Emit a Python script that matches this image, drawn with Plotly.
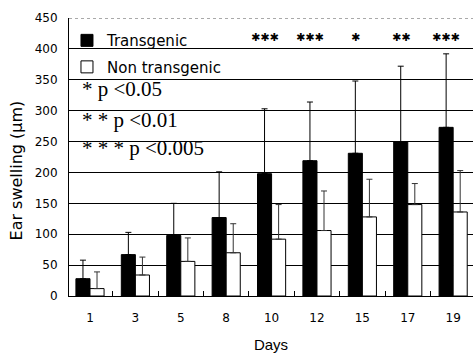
import plotly.graph_objects as go

days = ["1", "3", "5", "8", "10", "12", "15", "17", "19"]
transgenic = [28, 67, 98, 127, 198, 219, 231, 250, 273]
transgenic_err_top = [58, 103, 150, 201, 303, 314, 348, 372, 392]
nontransgenic = [12, 34, 56, 70, 92, 106, 128, 148, 136]
nontransgenic_err_top = [39, 63, 94, 117, 148, 170, 189, 182, 203]
sig_days = ["10", "12", "15", "17", "19"]
sig_marks = ["✱✱✱", "✱✱✱", "✱", "✱✱", "✱✱✱"]
p_notes = ["* p <0.05", "* * p <0.01", "* * * p <0.005"]
p_note_y = [335, 285, 239]
y_ticks = [0, 50, 100, 150, 200, 250, 300, 350, 400, 450]

sans = "Liberation Sans, Arial, sans-serif"
dejavu = "DejaVu Sans, sans-serif"
serif = "Liberation Serif, Times New Roman, serif"

fig = go.Figure()
fig.add_trace(go.Bar(
    x=days, y=transgenic, name="Transgenic",
    marker=dict(color="black", line=dict(color="black", width=1)),
    error_y=dict(type="data", symmetric=False,
                 array=[t - v for t, v in zip(transgenic_err_top, transgenic)],
                 arrayminus=[0] * len(days), color="black", thickness=1, width=3),
    legendgroup="a",
))
fig.add_trace(go.Bar(
    x=days, y=nontransgenic, name="Non transgenic",
    marker=dict(color="white", line=dict(color="black", width=1)),
    error_y=dict(type="data", symmetric=False,
                 array=[t - v for t, v in zip(nontransgenic_err_top, nontransgenic)],
                 arrayminus=[0] * len(days), color="#333333", thickness=1, width=3),
    legendgroup="b",
))

annotations = []
for d, m in zip(sig_days, sig_marks):
    annotations.append(dict(x=days.index(d) - 0.15, y=418, xref="x", yref="y",
                            text=m, showarrow=False,
                            font=dict(family=dejavu, size=11, color="black")))
for t, yv in zip(p_notes, p_note_y):
    annotations.append(dict(x=0.026, y=yv, xref="paper", yref="y", text=t,
                            showarrow=False, xanchor="left",
                            font=dict(family=serif, size=21, color="black")))
annotations.append(dict(x=-0.129, y=203, xref="paper", yref="y",
                        xanchor="center", yanchor="middle",
                        text="Ear swelling (μm)", textangle=-90, showarrow=False,
                        font=dict(family=dejavu, size=16, color="black")))

fig.update_layout(
    width=473, height=355,
    margin=dict(l=69, r=0, t=18, b=59, autoexpand=False),
    paper_bgcolor="white", plot_bgcolor="white",
    barmode="group", bargap=0.38, bargroupgap=0,
    showlegend=True,
    legend=dict(x=-0.005, y=0.978, xanchor="left", yanchor="top",
                bgcolor="rgba(0,0,0,0)", font=dict(family=dejavu, size=15, color="black"),
                tracegroupgap=4, traceorder="grouped"),
    annotations=annotations,
    shapes=[
        dict(type="rect", xref="paper", yref="y", x0=0.025, x1=0.403, y0=385, y1=449,
             fillcolor="white", line=dict(width=0), layer="between"),
        dict(type="line", xref="paper", yref="y", x0=0, x1=1, y0=450, y1=450,
             line=dict(color="white", width=2), layer="above"),
        dict(type="line", xref="paper", yref="y", x0=0, x1=1, y0=450, y1=450,
             line=dict(color="#555555", width=1, dash="dot"), layer="above"),
    ],
    xaxis=dict(
        type="category", range=[-0.4625, 8.437], automargin=False,
        showline=True, linecolor="black", linewidth=1,
        ticks="inside", tickson="boundaries", ticklen=5, tickcolor="black",
        ticklabelstandoff=11,
        tickfont=dict(family=dejavu, size=12, color="black"),
        title=dict(text="Days", font=dict(family=sans, size=15, color="black"), standoff=15),
        showgrid=False,
    ),
    yaxis=dict(
        range=[0, 450], tickvals=y_ticks, automargin=False,
        showline=True, linecolor="black", linewidth=1,
        showgrid=True, gridcolor="black", gridwidth=1,
        zeroline=False, ticks="", ticklabelstandoff=8,
        tickfont=dict(family=dejavu, size=12, color="black"),
    ),
)

fig.write_html("out.html", config={"displayModeBar": False},
               post_script="document.body.style.margin='0';document.body.style.overflow='hidden';")
